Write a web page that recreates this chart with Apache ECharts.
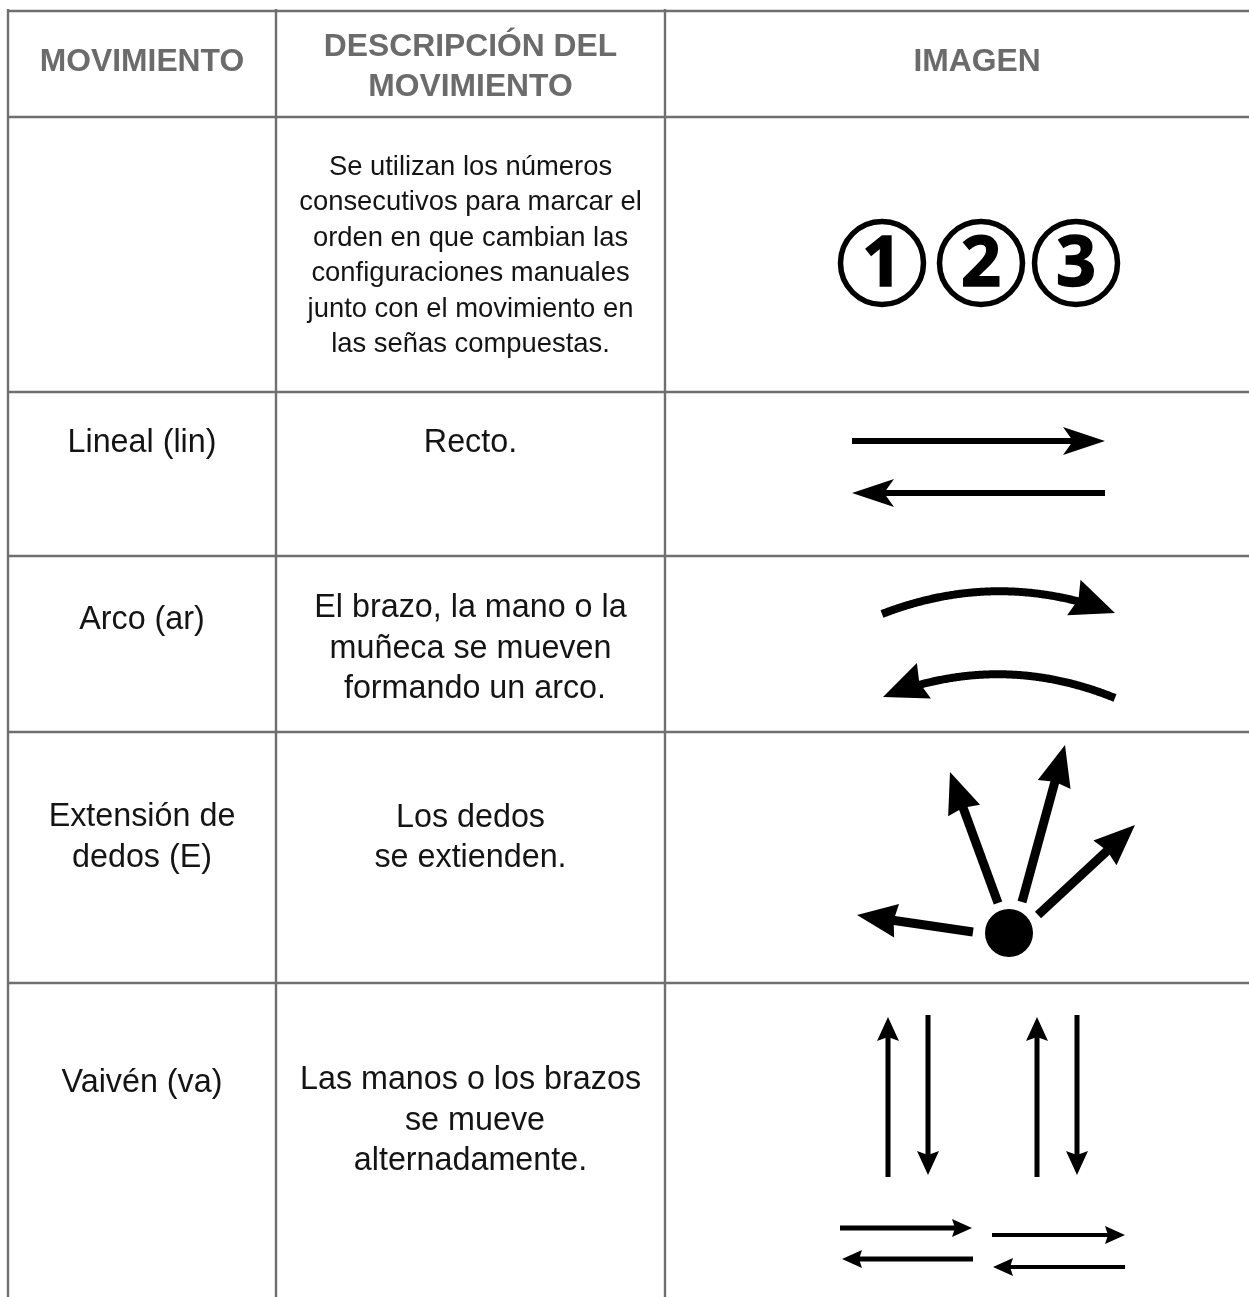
<!DOCTYPE html>
<html><head><meta charset="utf-8">
<script src="https://cdn.jsdelivr.net/npm/echarts@6/dist/echarts.min.js"></script>
<style>html,body{margin:0;padding:0;background:#fff}#c{width:1249px;height:1297px}</style>
</head><body><div id="c"></div>
<script>
// ---- contenido (datos) ----
const encabezados = ['MOVIMIENTO', 'DESCRIPCIÓN DEL\nMOVIMIENTO', 'IMAGEN'];
const movimientos = ['', 'Lineal (lin)', 'Arco (ar)', 'Extensión de\ndedos (E)', 'Vaivén (va)'];
const descripciones = [
  'Se utilizan los números\nconsecutivos para marcar el\norden en que cambian las\nconfiguraciones manuales\njunto con el movimiento en\nlas señas compuestas.',
  'Recto.',
  'El brazo, la mano o la\nmuñeca se mueven\n formando un arco.',
  'Los dedos\nse extienden.',
  'Las manos o los brazos\n se mueve\nalternadamente.'
];
const numeros = ['1', '2', '3'];

// ---- maquetación (posiciones en píxeles del lienzo) ----
const W = 1249, H = 1297;
const colX = [8, 276, 665];
const rowY = [11, 117, 392, 556, 732, 983];
const colCenter = [142, 470.5, 977];
const headerY = [62, 67, 62];
const movY = [0, 443, 620, 838, 1083];
const descY = [0, 443, 649, 838, 1121];
const descY0 = 256;

const LINE = '#6f6f6f', TXT = '#141414', HDR = '#6b6b6b';
const FONT = '"Liberation Sans", Arial, sans-serif';

const circulos = { cx: [882, 981, 1076], cy: 263, r: 41.5 };
const flechasRectas = [
  // [from, to, shaftW, headLen, headHalf, notch]
  [[852, 441], [1105, 441], 6, 42, 14, 10],
  [[1105, 493], [852, 493], 6, 42, 14, 10],
  [[973, 932], [857, 915], 9, 40, 17, 3],
  [[998, 903], [950, 772], 9, 41, 17, 3],
  [[1022, 902], [1065, 745], 9, 41, 17, 3],
  [[1038, 915], [1135, 825], 9, 41, 17, 3],
  [[888, 1177], [888, 1017], 5, 24, 11, 4],
  [[928, 1015], [928, 1175], 5, 24, 11, 4],
  [[1037, 1177], [1037, 1017], 5, 24, 11, 4],
  [[1077, 1015], [1077, 1175], 5, 24, 11, 4],
  [[840, 1228], [972, 1228], 5, 20, 9, 3],
  [[973, 1259], [842, 1259], 5, 20, 9, 3],
  [[992, 1235], [1125, 1235], 4, 20, 9, 3],
  [[1125, 1267], [993, 1267], 4, 20, 9, 3]
];
const flechasCurvas = [
  // [start, control, tip, width, headLen, headHalf]
  [[882, 614], [998, 569], [1115, 613], 8, 44, 19],
  [[1115, 698], [999, 651], [883, 697], 8, 44, 19]
];
const punto = { c: [1009, 933], r: 24 };

function straightArrow(P, from, to, w, len, half, notch) {
  const dx = to[0] - from[0], dy = to[1] - from[1];
  const L = Math.hypot(dx, dy), ux = dx / L, uy = dy / L, px = -uy, py = ux;
  const bx = to[0] - ux * len, by = to[1] - uy * len;
  const nx = bx + ux * notch, ny = by + uy * notch;
  return [
    { type: 'polyline', shape: { points: [P(from), P([nx + ux, ny + uy])] },
      style: { stroke: '#000', lineWidth: w, fill: null, lineCap: 'butt' } },
    { type: 'polygon', shape: { points: [P(to), P([bx + px * half, by + py * half]), P([nx, ny]), P([bx - px * half, by - py * half])] },
      style: { fill: '#000' } }
  ];
}
function curvedArrow(P, p0, c, p2, w, len, half) {
  const tx = p2[0] - c[0], ty = p2[1] - c[1];
  const L = Math.hypot(tx, ty), ux = tx / L, uy = ty / L, px = -uy, py = ux;
  const bx = p2[0] - ux * len, by = p2[1] - uy * len;
  const pts = [];
  for (let i = 0; i <= 200; i++) {
    const t = i / 200, a = (1 - t) * (1 - t), b = 2 * t * (1 - t), d = t * t;
    const x = a * p0[0] + b * c[0] + d * p2[0], y = a * p0[1] + b * c[1] + d * p2[1];
    if (Math.hypot(p2[0] - x, p2[1] - y) < len - 8) break;
    pts.push(P([x, y]));
  }
  return [
    { type: 'polyline', shape: { points: pts }, style: { stroke: '#000', lineWidth: w, fill: null, lineCap: 'butt', lineJoin: 'round' } },
    { type: 'polygon', shape: { points: [P(p2), P([bx + px * half, by + py * half]), P([bx + ux * 5, by + uy * 5]), P([bx - px * half, by - py * half])] },
      style: { fill: '#000' } }
  ];
}

const chart = echarts.init(document.getElementById('c'), null, { renderer: 'canvas' });

function renderTabla(params, api) {
  const P = p => api.coord(p);
  const ch = [];
  rowY.forEach(y => ch.push({ type: 'line', shape: { x1: P([colX[0] - 1, y])[0], y1: P([0, y])[1], x2: P([W, y])[0], y2: P([0, y])[1] },
    style: { stroke: LINE, lineWidth: 2.6 } }));
  colX.forEach(x => ch.push({ type: 'line', shape: { x1: P([x, 0])[0], y1: P([0, rowY[0] - 2])[1], x2: P([x, 0])[0], y2: P([0, H])[1] },
    style: { stroke: LINE, lineWidth: 2.4 } }));
  return { type: 'group', children: ch };
}
function renderTextos(params, api) {
  const P = p => api.coord(p);
  const ch = [];
  encabezados.forEach((t, i) => {
    const p = P([colCenter[i], headerY[i]]);
    ch.push({ type: 'text', style: { text: t, x: p[0], y: p[1], align: 'center', verticalAlign: 'middle',
      font: 'bold 31.8px ' + FONT, lineHeight: 40, fill: HDR } });
  });
  movimientos.forEach((t, i) => {
    if (!t) return;
    const p = P([colCenter[0], movY[i]]);
    ch.push({ type: 'text', style: { text: t, x: p[0], y: p[1], align: 'center', verticalAlign: 'middle',
      font: '32.3px ' + FONT, lineHeight: 41, fill: TXT } });
  });
  descripciones.forEach((t, i) => {
    const first = i === 0;
    const p = P([colCenter[1], first ? descY0 : descY[i]]);
    ch.push({ type: 'text', style: { text: t, x: p[0], y: p[1], align: 'center', verticalAlign: 'middle',
      font: (first ? '27.4px ' : '32.3px ') + FONT, lineHeight: first ? 35.4 : 40.5, fill: TXT } });
  });
  return { type: 'group', children: ch };
}
function renderDibujos(params, api) {
  const P = p => api.coord(p);
  let ch = [];
  circulos.cx.forEach((cx, i) => {
    const c = P([cx, circulos.cy]);
    ch.push({ type: 'circle', shape: { cx: c[0], cy: c[1], r: circulos.r }, style: { stroke: '#000', lineWidth: 5.5, fill: null } });
    ch.push({ type: 'text', style: { text: numeros[i], x: c[0], y: c[1] + 3, align: 'center', verticalAlign: 'middle',
      font: 'bold 70px "Open Sans", sans-serif', fill: '#000', stroke: '#000', lineWidth: 1.5 } });
  });
  flechasRectas.forEach(f => { ch = ch.concat(straightArrow(P, f[0], f[1], f[2], f[3], f[4], f[5])); });
  flechasCurvas.forEach(f => { ch = ch.concat(curvedArrow(P, f[0], f[1], f[2], f[3], f[4], f[5])); });
  const pc = P(punto.c);
  ch.push({ type: 'circle', shape: { cx: pc[0], cy: pc[1], r: punto.r }, style: { fill: '#000' } });
  return { type: 'group', children: ch };
}

chart.setOption({
  animation: false,
  backgroundColor: '#ffffff',
  grid: { left: 0, right: 0, top: 0, bottom: 0 },
  xAxis: { type: 'value', min: 0, max: W, show: false },
  yAxis: { type: 'value', min: 0, max: H, inverse: true, show: false },
  series: [
    { type: 'custom', name: 'tabla', data: [[0, 0]], renderItem: renderTabla, clip: false, silent: true },
    { type: 'custom', name: 'dibujos', data: [[0, 0]], renderItem: renderDibujos, clip: false, silent: true },
    { type: 'custom', name: 'textos', data: [[0, 0]], renderItem: renderTextos, clip: false, silent: true }
  ]
});
</script></body></html>
